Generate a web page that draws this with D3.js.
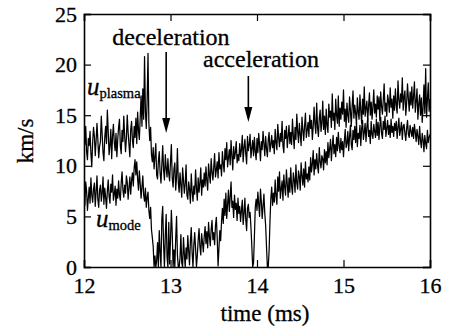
<!DOCTYPE html>
<html>
<head>
<meta charset="utf-8">
<script src="https://cdn.jsdelivr.net/npm/d3@7"></script>
<style>
  body { margin: 0; background: #fff; }
  text { font-family: "Liberation Serif", serif; fill: #000; stroke: #000; stroke-width: 0.3px; }
</style>
</head>
<body>
<div id="chart"></div>
<script>
// samples every 0.01 ms from 12 ms
const tStart = 12;
const tStep = 0.01;

const uPlasma = [
  13.6, 12.1, 13.9, 11.4, 10.6, 12.7, 12.0, 13.4, 11.2, 9.9, 12.3, 13.8, 12.9, 11.0, 12.5, 14.2, 12.6, 10.8, 11.9, 12.4,
  14.9, 13.1, 11.3, 10.5, 12.8, 13.9, 12.2, 15.5, 13.4, 11.1, 12.0, 13.6, 10.7, 12.9, 14.1, 12.3, 11.5, 13.2, 10.9, 12.6,
  13.8, 14.6, 12.0, 11.2, 13.5, 12.4, 14.9, 13.0, 11.4, 12.7, 15.0, 13.3, 12.1, 10.9, 13.6, 14.4, 12.5, 11.8, 13.9, 12.8,
  14.7, 12.2, 15.3, 13.5, 12.6, 14.8, 16.9, 13.9, 17.6, 14.6, 20.8, 15.4, 13.7, 16.5, 21.1, 14.2, 12.5, 13.8, 11.1, 10.4,
  11.8, 9.7, 10.9, 12.2, 9.1, 8.7, 10.5, 11.4, 9.3, 8.3, 10.1, 12.0, 9.6, 8.6, 11.1, 9.8, 8.9, 10.7, 9.2, 8.5,
  10.4, 12.1, 8.8, 7.9, 9.7, 10.3, 7.6, 8.9, 11.7, 8.4, 7.4, 9.3, 8.1, 6.9, 9.8, 8.6, 7.3, 8.2, 10.1, 7.1,
  6.7, 8.4, 7.7, 6.3, 9.2, 7.5, 6.5, 8.0, 7.2, 9.6, 7.8, 6.6, 8.8, 7.4, 8.3, 9.8, 7.1, 8.6, 7.9, 9.3,
  8.0, 9.9, 8.5, 7.6, 10.2, 9.1, 8.3, 10.7, 9.4, 8.6, 9.8, 11.2, 8.9, 9.6, 10.4, 8.8, 11.3, 9.7, 10.1, 9.0,
  11.4, 10.2, 9.4, 11.7, 10.6, 12.3, 9.9, 10.8, 11.6, 10.1, 12.5, 11.0, 9.6, 11.9, 10.7, 11.3, 12.4, 10.3, 11.1, 10.5,
  12.2, 10.9, 11.6, 13.0, 10.4, 11.8, 12.6, 11.2, 10.2, 12.9, 11.5, 12.1, 13.1, 10.8, 11.7, 12.5, 11.0, 12.8, 11.4, 10.6,
  12.7, 11.3, 13.2, 12.0, 10.5, 12.4, 11.6, 13.4, 12.2, 11.0, 12.9, 11.7, 10.9, 12.6, 13.3, 11.4, 12.1, 13.0, 11.8, 12.5,
  11.2, 13.6, 12.3, 11.6, 14.1, 12.8, 11.9, 13.2, 12.4, 14.4, 12.0, 11.3, 13.5, 12.7, 13.9, 11.8, 12.9, 14.0, 12.2, 13.3,
  12.1, 14.6, 13.0, 11.7, 13.8, 12.6, 15.1, 13.4, 12.3, 14.2, 13.1, 12.0, 14.8, 13.6, 12.5, 13.9, 15.2, 12.8, 13.5, 14.3,
  12.9, 15.0, 13.7, 14.5, 12.6, 13.9, 15.8, 14.1, 13.2, 16.2, 13.8, 12.9, 14.7, 15.5, 13.4, 14.2, 16.4, 13.6, 14.9, 13.1,
  15.6, 14.0, 13.3, 16.1, 14.8, 15.4, 13.8, 17.1, 14.5, 15.2, 13.6, 16.6, 15.0, 14.2, 16.9, 13.9, 15.7, 14.6, 16.3, 15.1,
  17.5, 14.4, 15.6, 13.8, 16.2, 15.0, 14.3, 16.8, 15.5, 13.9, 15.9, 17.4, 14.7, 16.0, 15.2, 14.1, 16.7, 15.3, 14.6, 17.0,
  15.4, 14.2, 16.6, 15.1, 17.8, 14.9, 15.7, 16.4, 14.4, 15.9, 17.2, 15.0, 16.3, 14.6, 15.8, 17.5, 15.2, 16.1, 14.8, 16.9,
  15.6, 16.8, 14.5, 17.3, 15.9, 15.1, 16.5, 18.1, 15.4, 16.2, 14.9, 17.0, 16.4, 15.3, 17.7, 15.8, 16.6, 14.7, 16.9, 15.5,
  17.6, 16.0, 15.2, 18.4, 16.5, 15.7, 17.1, 16.3, 18.7, 15.5, 16.8, 17.4, 15.0, 16.2, 18.1, 16.6, 15.4, 17.3, 16.0, 17.8,
  15.7, 16.9, 18.3, 15.3, 16.4, 17.6, 14.6, 16.1, 17.0, 15.0, 16.7, 14.3, 15.8, 18.0, 15.2, 19.6, 14.8, 16.5, 18.2, 15.4,
  16.6
];

const uMode = [
  7.2, 6.1, 8.4, 7.5, 5.6, 6.8, 7.9, 6.3, 8.8, 7.1, 6.4, 7.7, 8.3, 6.0, 7.4, 9.0, 6.7, 5.9, 7.6, 8.1,
  6.5, 7.3, 8.9, 6.2, 7.8, 6.9, 5.8, 7.5, 8.6, 7.0, 6.3, 8.2, 7.4, 9.1, 6.6, 7.2, 8.0, 6.1, 7.7, 6.8,
  8.5, 7.1, 6.6, 8.3, 9.4, 7.6, 6.9, 8.1, 7.3, 9.0, 8.4, 6.7, 7.8, 8.9, 7.2, 8.6, 9.3, 8.0, 9.8, 10.6,
  9.1, 10.4, 8.7, 7.6, 9.5, 8.2, 6.8, 7.9, 9.0, 7.1, 6.5, 7.8, 5.9, 6.9, 7.4, 5.6, 4.8, 5.9, 3.7, 2.9,
  2.0, 0.0, 1.1, 0.0, 0.6, 2.4, 0.0, 3.6, 1.4, 0.0, 4.8, 6.0, 2.2, 0.0, 3.1, 5.2, 1.0, 0.0, 4.4, 0.3,
  2.6, 5.6, 3.4, 0.0, 1.7, 0.0, 2.8, 5.0, 1.2, 0.0, 0.0, 0.9, 3.2, 0.4, 0.0, 2.9, 1.3, 0.0, 1.9, 0.8,
  3.1, 1.6, 0.2, 2.5, 3.9, 1.4, 0.0, 2.2, 3.4, 1.8, 0.0, 1.1, 2.7, 3.8, 2.0, 1.2, 3.3, 2.4, 1.5, 3.0,
  4.0, 2.3, 3.5, 1.9, 4.4, 3.0, 2.1, 3.7, 4.6, 2.7, 3.4, 2.2, 4.1, 4.9, 2.9, 0.1, 1.8, 3.6, 2.6, 4.5,
  5.8, 4.3, 6.7, 5.1, 7.3, 4.8, 6.2, 7.6, 5.5, 6.9, 8.4, 5.9, 6.5, 4.9, 7.1, 5.7, 6.3, 4.6, 6.8, 5.3,
  6.0, 4.5, 5.6, 6.6, 4.2, 5.3, 6.8, 4.7, 3.6, 5.8, 6.2, 4.9, 5.4, 3.9, 2.1, 0.0, 0.4, 3.0, 5.9, 6.7,
  5.6, 7.4, 6.2, 5.0, 7.7, 6.5, 4.8, 6.0, 7.2, 5.3, 4.1, 2.0, 0.0, 0.0, 1.6, 4.5, 6.8, 7.9, 6.1, 7.3,
  6.4, 8.6, 7.0, 6.2, 8.9, 7.5, 9.4, 6.8, 7.7, 8.5, 6.6, 9.1, 7.9, 7.1, 9.6, 8.2, 6.9, 8.8, 7.4, 9.8,
  8.0, 7.2, 9.3, 8.6, 7.4, 10.1, 8.3, 7.7, 9.5, 8.9, 7.6, 10.3, 9.0, 8.1, 9.7, 7.9, 10.4, 8.7, 9.2, 8.4,
  9.9, 8.6, 10.8, 9.4, 10.2, 11.5, 9.1, 10.6, 9.7, 11.2, 10.0, 9.3, 11.8, 10.4, 9.8, 11.0, 10.7, 9.6, 11.6, 10.3,
  11.4, 10.1, 12.3, 10.8, 11.7, 12.6, 10.5, 11.9, 13.0, 11.2, 12.1, 10.9, 12.8, 11.5, 13.3, 12.0, 11.3, 12.7, 11.6, 12.4,
  10.9, 12.5, 13.6, 11.8, 12.2, 13.4, 11.5, 12.9, 14.0, 12.1, 11.6, 13.5, 12.6, 13.9, 12.3, 14.3, 11.9, 13.2, 12.7, 14.0,
  12.0, 13.7, 14.5, 12.6, 13.3, 14.2, 12.4, 13.8, 14.7, 12.9, 13.5, 12.2, 14.4, 13.1, 12.7, 14.1, 13.4, 12.8, 14.6, 13.0,
  14.3, 12.6, 13.9, 14.8, 13.2, 12.7, 14.4, 13.6, 14.9, 12.9, 13.7, 14.5, 13.1, 14.0, 12.8, 14.6, 13.3, 13.9, 12.9, 14.2,
  13.5, 14.4, 12.7, 13.8, 14.7, 13.0, 13.6, 14.3, 12.6, 13.9, 14.1, 13.2, 12.5, 13.7, 14.5, 13.1, 12.8, 14.0, 13.4, 12.9,
  13.8, 12.7, 14.1, 13.3, 12.4, 13.6, 12.9, 12.1, 13.9, 12.5, 11.8, 13.2, 12.6, 11.4, 13.0, 12.2, 11.7, 13.5, 12.3, 12.8,
  13.1
];

const xTicks = [12, 13, 14, 15, 16];
const yTicks = [0, 5, 10, 15, 20, 25];

const width = 450, height = 333;
const margin = { top: 14, right: 20, bottom: 66, left: 84 };
const w = width - margin.left - margin.right;
const h = height - margin.top - margin.bottom;

const svg = d3.select("#chart").append("svg")
  .attr("width", width)
  .attr("height", height);

const g = svg.append("g").attr("transform", `translate(${margin.left},${margin.top})`);

const x = d3.scaleLinear().domain([12, 16]).range([0, w]);
const y = d3.scaleLinear().domain([0, 25]).range([h, 0]);

g.append("clipPath").attr("id", "clip")
  .append("rect").attr("width", w).attr("height", h);

const line = d3.line()
  .x((d, i) => x(tStart + i * tStep))
  .y(d => y(d));

[uPlasma, uMode].forEach(series => {
  g.append("path")
    .datum(series)
    .attr("clip-path", "url(#clip)")
    .attr("fill", "none")
    .attr("stroke", "#000")
    .attr("stroke-width", 1.25)
    .attr("stroke-linejoin", "round")
    .attr("d", line);
});

// axes with inward ticks
const tickLen = 7;
const fmt = d3.format("d");

const axes = [
  g.append("g")
    .attr("transform", `translate(0,${h})`)
    .call(d3.axisBottom(x).tickValues(xTicks).tickSize(-tickLen).tickPadding(10).tickFormat(fmt)),
  g.append("g")
    .call(d3.axisTop(x).tickValues(xTicks).tickSize(-tickLen).tickFormat("")),
  g.append("g")
    .call(d3.axisLeft(y).tickValues(yTicks).tickSize(-tickLen).tickPadding(7).tickFormat(fmt)),
  g.append("g")
    .attr("transform", `translate(${w},0)`)
    .call(d3.axisRight(y).tickValues(yTicks).tickSize(-tickLen).tickFormat(""))
];
axes.forEach(a => a.attr("font-family", "Liberation Serif").attr("font-size", 22));

g.selectAll(".domain").attr("stroke", "#000").attr("stroke-width", 1.6);
g.selectAll(".tick line").attr("stroke", "#000").attr("stroke-width", 1.2);
g.selectAll(".tick text").attr("fill", "#000");

// axis titles
svg.append("text")
  .attr("x", 265)
  .attr("y", 321)
  .attr("text-anchor", "middle")
  .style("font-size", "23px")
  .text("time (ms)");

svg.append("text")
  .attr("transform", "translate(33,141) rotate(-90)")
  .attr("text-anchor", "middle")
  .style("font-size", "23px")
  .text("km/s");

// series labels
const plasmaLabel = svg.append("text").attr("x", 87).attr("y", 95);
plasmaLabel.append("tspan").style("font-style", "italic").style("font-size", "25px").text("u");
plasmaLabel.append("tspan").attr("dy", 3).style("font-size", "14.5px").text("plasma");

const modeLabel = svg.append("text").attr("x", 96).attr("y", 227);
modeLabel.append("tspan").style("font-style", "italic").style("font-size", "25px").text("u");
modeLabel.append("tspan").attr("dy", 3).style("font-size", "14.5px").text("mode");

// annotations with arrows
const notes = [
  { label: "deceleration", t: 12.95, textX: 171, textY: 45, y0: 52, y1: 133 },
  { label: "acceleration", t: 13.9, textX: 261, textY: 67, y0: 76, y1: 122 }
];

notes.forEach(n => {
  svg.append("text")
    .attr("x", n.textX)
    .attr("y", n.textY)
    .attr("text-anchor", "middle")
    .style("font-size", "24px")
    .text(n.label);
  const ax = margin.left + x(n.t);
  svg.append("line")
    .attr("x1", ax).attr("x2", ax)
    .attr("y1", n.y0).attr("y2", n.y1 - 10)
    .attr("stroke", "#000")
    .attr("stroke-width", 1.6);
  svg.append("path")
    .attr("d", `M${ax - 4},${n.y1 - 15} L${ax + 4},${n.y1 - 15} L${ax},${n.y1} Z`)
    .attr("fill", "#000");
});
</script>
</body>
</html>
